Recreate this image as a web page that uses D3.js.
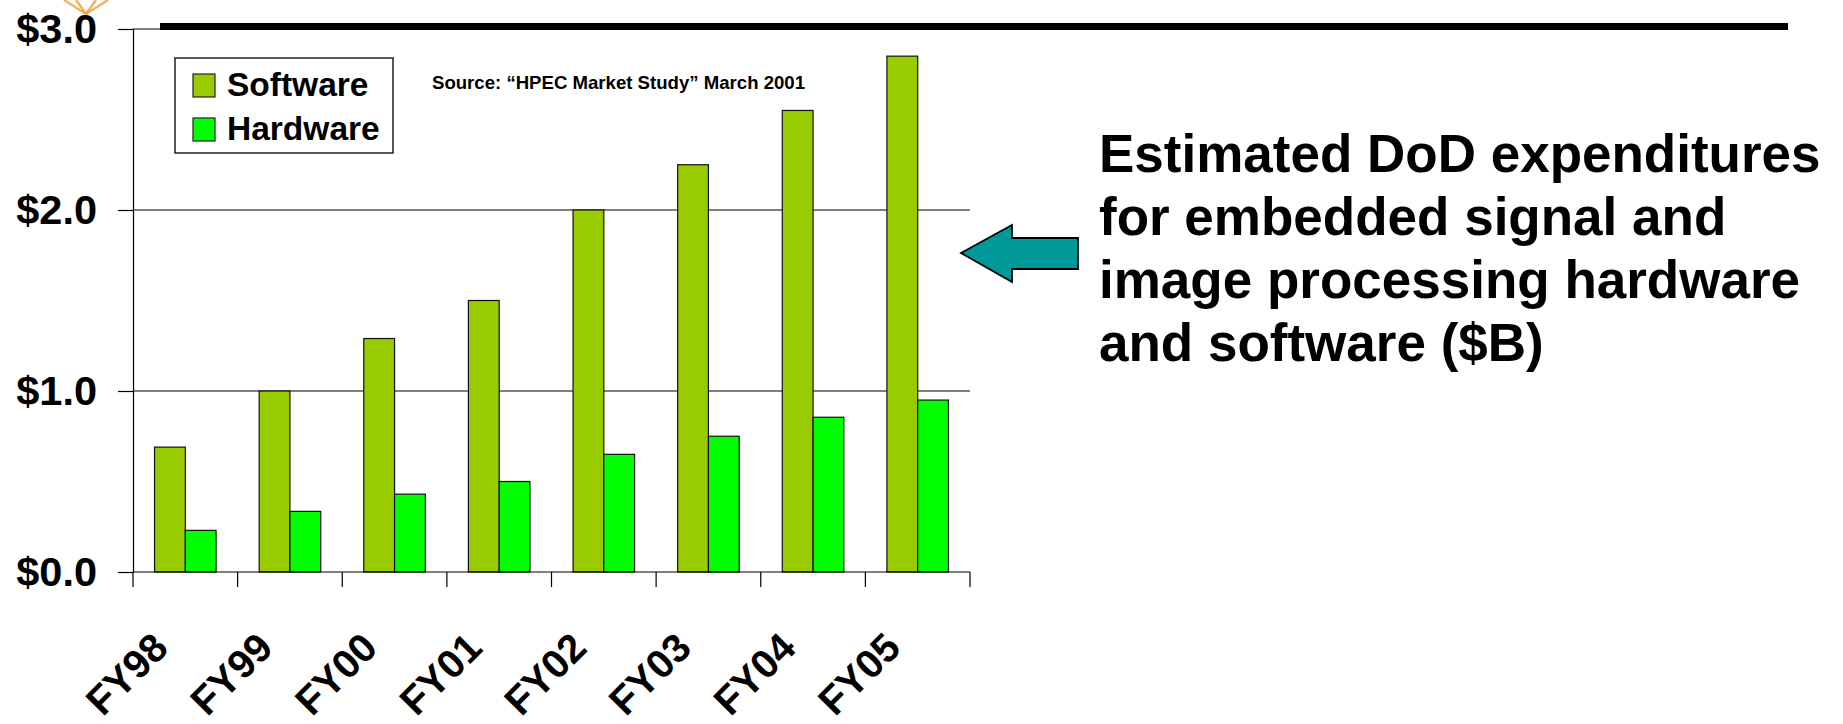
<!DOCTYPE html>
<meta charset="utf-8">
<script src="https://d3js.org/d3.v7.min.js"></script>
<style>
  body { margin: 0; background: #fff; }
  text { font-family: "Liberation Sans", Arial, sans-serif; font-weight: bold; }
</style>
<body>
<svg id="chart" width="1843" height="724"></svg>
<script>
  // data ($ billions)
  var years = ["FY98", "FY99", "FY00", "FY01", "FY02", "FY03", "FY04", "FY05"];
  var series = ["Software", "Hardware"];
  var software = [0.69, 1.0, 1.29, 1.5, 2.0, 2.25, 2.55, 2.85];
  var hardware = [0.23, 0.335, 0.43, 0.5, 0.65, 0.75, 0.855, 0.95];
  var yTicks = [0, 1, 2, 3];
  var colors = ["#99cc00", "#00ff00"];
  var caption = ["Estimated DoD expenditures", "for embedded signal and",
                 "image processing hardware", "and software ($B)"];

  var svg = d3.select("#chart");

  // plot area (note: "top" is taken by window.top, so use other names)
  var plotLeft = 133, plotRight = 970, plotTop = 29, plotBottom = 572;

  var x0 = d3.scaleBand().domain(years).range([plotLeft, plotRight]).padding(0);
  var x1 = d3.scaleBand().domain(series).range([0, x0.bandwidth()])
      .paddingInner(0).paddingOuter(0.7);
  var y = d3.scaleLinear().domain([0, 3]).range([plotBottom, plotTop]);
  var color = d3.scaleOrdinal().domain(series).range(colors);

  // partial orange logo peeking in at the top left
  var logo = svg.append("g").attr("stroke", "#f0a040").attr("stroke-width", 2.5).attr("fill", "none");
  [[64, 0], [76, 0], [96, 0], [108, 0]].forEach(function(p) {
    logo.append("line").attr("x1", 86).attr("y1", 14).attr("x2", p[0]).attr("y2", p[1]).attr("opacity", 0.8);
  });

  // gridlines
  svg.append("g")
    .selectAll("line")
    .data(yTicks.filter(function(d){ return d > 0; }))
    .enter()
    .append("line")
      .attr("x1", plotLeft).attr("x2", plotRight)
      .attr("y1", function(d){ return y(d); })
      .attr("y2", function(d){ return y(d); })
      .attr("stroke", "#000")
      .attr("stroke-width", 1.2);

  // header rule across the slide
  svg.append("rect")
    .attr("x", 160).attr("y", 23)
    .attr("width", 1628).attr("height", 7)
    .attr("fill", "#000");

  // bars
  var data = years.map(function(yr, i) {
    return { year: yr, values: [
      { key: "Software", value: software[i] },
      { key: "Hardware", value: hardware[i] } ] };
  });

  svg.append("g")
    .selectAll("g")
    .data(data)
    .enter()
    .append("g")
      .attr("transform", function(d){ return "translate(" + x0(d.year) + ",0)"; })
    .selectAll("rect")
    .data(function(d){ return d.values; })
    .enter()
    .append("rect")
      .attr("x", function(d){ return x1(d.key); })
      .attr("y", function(d){ return y(d.value); })
      .attr("width", x1.bandwidth())
      .attr("height", function(d){ return y(0) - y(d.value); })
      .attr("fill", function(d){ return color(d.key); })
      .attr("stroke", "#111")
      .attr("stroke-width", 1.2);

  // y axis
  var yAxis = svg.append("g")
    .attr("transform", "translate(" + plotLeft + ",0)")
    .call(d3.axisLeft(y).tickValues(yTicks).tickSize(15).tickPadding(21)
      .tickFormat(d3.format("$.1f")));
  yAxis.select(".domain").attr("stroke", "#000").attr("stroke-width", 1.2);
  yAxis.selectAll(".tick line").attr("stroke", "#000").attr("stroke-width", 1.2);
  yAxis.selectAll(".tick text")
    .attr("font-family", "Liberation Sans, Arial, sans-serif")
    .attr("font-weight", "bold")
    .attr("font-size", 41.5)
    .attr("fill", "#000");

  // x axis line + ticks at band edges
  svg.append("line")
    .attr("x1", plotLeft).attr("x2", plotRight)
    .attr("y1", y(0)).attr("y2", y(0))
    .attr("stroke", "#000").attr("stroke-width", 1.2);

  var edges = years.map(function(d){ return x0(d); }).concat([x0.range()[1]]);
  svg.append("g")
    .selectAll("line")
    .data(edges)
    .enter()
    .append("line")
      .attr("x1", function(d){ return d; }).attr("x2", function(d){ return d; })
      .attr("y1", y(0)).attr("y2", y(0) + 15)
      .attr("stroke", "#000").attr("stroke-width", 1.2);

  // rotated category labels
  svg.append("g")
    .selectAll("text")
    .data(years)
    .enter()
    .append("text")
      .attr("transform", function(d){
        return "translate(" + (x0(d) + x0.bandwidth() / 2 - 15) + "," + 650 + ") rotate(-45)";
      })
      .attr("text-anchor", "end")
      .attr("font-size", 40)
      .attr("fill", "#000")
      .text(function(d){ return d; });

  // legend
  var legend = svg.append("g");
  legend.append("rect")
    .attr("x", 175).attr("y", 58).attr("width", 218).attr("height", 95)
    .attr("fill", "#fff").attr("stroke", "#222").attr("stroke-width", 1.5);
  series.forEach(function(s, i) {
    legend.append("rect")
      .attr("x", 193).attr("y", 74 + i * 44)
      .attr("width", 22).attr("height", 23)
      .attr("fill", color(s)).attr("stroke", "#222").attr("stroke-width", 1.2);
    legend.append("text")
      .attr("x", 227).attr("y", 96 + i * 44)
      .attr("font-size", 33.5)
      .text(s);
  });

  // source note
  svg.append("text")
    .attr("x", 432).attr("y", 89)
    .attr("font-size", 18.6)
    .text("Source: \u201cHPEC Market Study\u201d March 2001");

  // arrow pointing at the chart
  svg.append("polygon")
    .attr("points", "961,253 1012,225 1012,238 1078,238 1078,269 1012,269 1012,282")
    .attr("fill", "#009999")
    .attr("stroke", "#000")
    .attr("stroke-width", 1.8)
    .attr("stroke-linejoin", "miter");

  // caption
  svg.append("g")
    .selectAll("text")
    .data(caption)
    .enter()
    .append("text")
      .attr("x", 1099)
      .attr("y", function(d, i){ return 172 + i * 63; })
      .attr("font-size", 53)
      .text(function(d){ return d; });
</script>
</body>
